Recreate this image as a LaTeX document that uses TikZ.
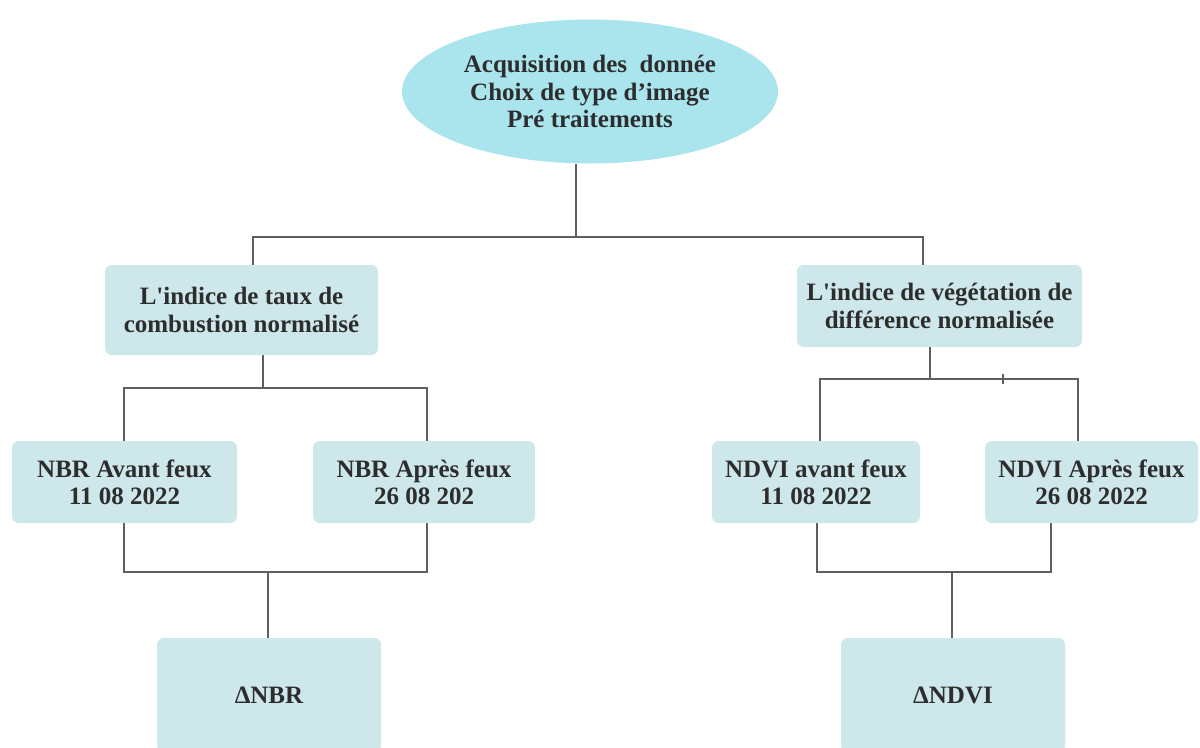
\documentclass[tikz,border=0pt]{standalone}
\usepackage{fontspec}
\setmainfont{Liberation Serif}
\usepackage{xcolor}
\usetikzlibrary{shapes.geometric}

\definecolor{ovalfill}{RGB}{170,228,237}
\definecolor{boxfill}{RGB}{206,231,234}
\definecolor{linkgray}{RGB}{95,95,95}
\definecolor{textgray}{RGB}{45,45,45}

\tikzset{
  oval/.style={ellipse, fill=ovalfill, inner sep=0pt, align=center, text=textgray,
    font=\fontsize{18.75}{20.5}\selectfont\bfseries},
  stepbox/.style={rectangle, rounded corners=5pt, fill=boxfill, inner sep=0pt, align=center,
    text=textgray, font=\fontsize{18.75}{20.5}\selectfont\bfseries},
  link/.style={draw=linkgray, line width=1.1pt}
}

\begin{document}
\begin{tikzpicture}[x=0.75pt,y=0.75pt,yscale=-1,xscale=1]
\useasboundingbox (0,0) rectangle (1200,747);
\clip (0,0) rectangle (1200,747);

%Shape: Ellipse
\node[oval, minimum width=282pt, minimum height=108pt] (acq) at (590,91.5)
  {Acquisition des \ donnée\\Choix de type d’image\\Pré traitements};

%Shape: Rectangle (indices)
\node[stepbox, minimum width=204.75pt, minimum height=67.5pt] (nbridx) at (241.5,310)
  {L\textquotesingle indice de taux de\\combustion normalisé};
\node[stepbox, minimum width=213.75pt, minimum height=61.5pt] (ndviidx) at (939.5,306)
  {L\textquotesingle indice de végétation de\\différence normalisée};

%Shape: Rectangle (dates)
\node[stepbox, minimum width=168.75pt, minimum height=61.5pt] (nbrav) at (124.5,482)
  {NBR Avant feux\\11 08 2022};
\node[stepbox, minimum width=166.5pt, minimum height=61.5pt] (nbrap) at (424,482)
  {NBR Après feux\\26 08 202};
\node[stepbox, minimum width=156pt, minimum height=61.5pt] (ndviav) at (816,482)
  {NDVI avant feux\\11 08 2022};
\node[stepbox, minimum width=159.75pt, minimum height=61.5pt] (ndviap) at (1091.5,482)
  {NDVI Après feux\\26 08 2022};

%Shape: Rectangle (differences)
\node[stepbox, minimum width=168pt, minimum height=85.5pt] (dnbr) at (269,695) {ΔNBR};
\node[stepbox, minimum width=168pt, minimum height=85.5pt] (dndvi) at (953,695) {ΔNDVI};

% junction points
\coordinate (j0) at (576,237);
\coordinate (l0) at (253,237);
\coordinate (r0) at (923,237);
\coordinate (j1) at (263,388);
\coordinate (a1) at (124,388);
\coordinate (b1) at (427,388);
\coordinate (a2) at (124,572);
\coordinate (b2) at (427,572);
\coordinate (j2) at (268,572);
\coordinate (j3) at (930,379);
\coordinate (a3) at (820,379);
\coordinate (b3) at (1078,379);
\coordinate (t3) at (1003,379);
\coordinate (a4) at (817,572);
\coordinate (b4) at (1051,572);
\coordinate (j4) at (952,572);

%Straight Lines
\draw[link] (acq.south -| j0) -- (j0);
\draw[link] (l0 |- nbridx.north) -- (l0) -- (r0) -- (r0 |- ndviidx.north);
\draw[link] (j1 |- nbridx.south) -- (j1);
\draw[link] (a1 |- nbrav.north) -- (a1) -- (b1) -- (b1 |- nbrap.north);
\draw[link] (a2 |- nbrav.south) -- (a2) -- (b2) -- (b2 |- nbrap.south);
\draw[link] (j2) -- (j2 |- dnbr.north);
\draw[link] (j3 |- ndviidx.south) -- (j3);
\draw[link] (a3 |- ndviav.north) -- (a3) -- (b3) -- (b3 |- ndviap.north);
\draw[link] ([yshift=-4]t3) -- ([yshift=4]t3);
\draw[link] (a4 |- ndviav.south) -- (a4) -- (b4) -- (b4 |- ndviap.south);
\draw[link] (j4) -- (j4 |- dndvi.north);

\end{tikzpicture}
\end{document}
